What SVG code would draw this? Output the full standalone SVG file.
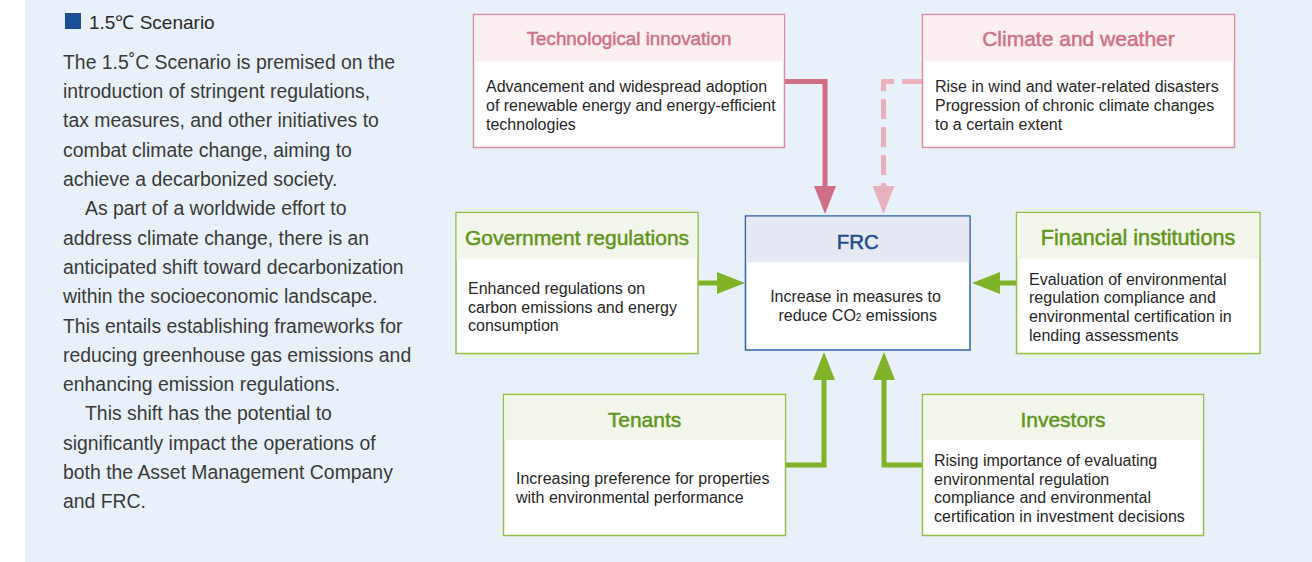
<svg xmlns="http://www.w3.org/2000/svg" width="1312" height="562" viewBox="0 0 1312 562">
  <style>
    .lead { font-family: "Liberation Sans", Arial, sans-serif; font-size: 19.4px; fill: #3a3a3a; }
    .title { font-family: "Liberation Sans", Arial, sans-serif; font-size: 21px; text-anchor: middle; stroke-width: 0.5; }
    .t-pink { fill: #d06f88; stroke: #d06f88; }
    .t-green { fill: #5f9620; stroke: #5f9620; }
    .t-blue { fill: #1d4f8f; stroke: #1d4f8f; }
    .body { font-family: "Liberation Sans", Arial, sans-serif; font-size: 16px; fill: #262626; }
    .box { fill: #ffffff; stroke-width: 1.5; }
    .b-pink { stroke: #de8aa0; }
    .b-green { stroke: #92c044; }
    .b-blue { stroke: #2e62a3; }
    .h-pink { fill: #fbeff2; }
    .h-green { fill: #f3f7eb; }
    .h-blue { fill: #e6e8f4; }
    .conn { fill: none; stroke-width: 5; }
  </style>
  <defs>
    <marker id="ah-pink" markerUnits="userSpaceOnUse" markerWidth="28" markerHeight="22" refX="0" refY="11" orient="auto">
      <path d="M0,0 L28,11 L0,22 Z" fill="#cf6f87"/>
    </marker>
    <marker id="ah-lightpink" markerUnits="userSpaceOnUse" markerWidth="28" markerHeight="22" refX="0" refY="11" orient="auto">
      <path d="M0,0 L28,11 L0,22 Z" fill="#e9b1be"/>
    </marker>
    <marker id="ah-green" markerUnits="userSpaceOnUse" markerWidth="28" markerHeight="22" refX="0" refY="11" orient="auto">
      <path d="M0,0 L28,11 L0,22 Z" fill="#80b327"/>
    </marker>
  </defs>

  <!-- panel background -->
  <rect x="25" y="0" width="1287" height="562" fill="#e8f1f9"/>

  <!-- scenario description -->
  <g id="scenario-text">
    <rect x="65" y="13" width="16" height="16" fill="#1b4f95"/>
    <text x="89" y="29" class="lead" style="font-size:19px;fill:#2a2a2a">1.5℃ Scenario</text>
    <text class="lead">
      <tspan x="63" y="69">The 1.5˚C Scenario is premised on the</tspan>
      <tspan x="63" y="98">introduction of stringent regulations,</tspan>
      <tspan x="63" y="127">tax measures, and other initiatives to</tspan>
      <tspan x="63" y="157">combat climate change, aiming to</tspan>
      <tspan x="63" y="186">achieve a decarbonized society.</tspan>
      <tspan x="85" y="215">As part of a worldwide effort to</tspan>
      <tspan x="63" y="245">address climate change, there is an</tspan>
      <tspan x="63" y="274">anticipated shift toward decarbonization</tspan>
      <tspan x="63" y="303">within the socioeconomic landscape.</tspan>
      <tspan x="63" y="333">This entails establishing frameworks for</tspan>
      <tspan x="63" y="362">reducing greenhouse gas emissions and</tspan>
      <tspan x="63" y="391">enhancing emission regulations.</tspan>
      <tspan x="85" y="420">This shift has the potential to</tspan>
      <tspan x="63" y="450">significantly impact the operations of</tspan>
      <tspan x="63" y="479">both the Asset Management Company</tspan>
      <tspan x="63" y="508">and FRC.</tspan>
    </text>
  </g>

  <!-- connectors -->
  <g id="connectors">
    <path class="conn" d="M785,81.5 H825 V186" stroke="#cf6f87" marker-end="url(#ah-pink)"/>
    <path class="conn" d="M922,81.5 H883.5 V186" stroke="#e9b1be" stroke-dasharray="20 8" marker-end="url(#ah-lightpink)"/>
    <path class="conn" d="M698,283 H717" stroke="#80b327" marker-end="url(#ah-green)"/>
    <path class="conn" d="M1016,283 H1000" stroke="#80b327" marker-end="url(#ah-green)"/>
    <path class="conn" d="M785,465 H824 V380" stroke="#80b327" marker-end="url(#ah-green)"/>
    <path class="conn" d="M922,465 H884 V380" stroke="#80b327" marker-end="url(#ah-green)"/>
  </g>

  <!-- Technological innovation -->
  <g id="node-tech">
    <rect class="box b-pink" x="473.5" y="14.5" width="311" height="133"/>
    <rect class="h-pink" x="474.25" y="15.25" width="309.5" height="46"/>
    <text class="title t-pink" x="629" y="45" style="font-size:18.8px">Technological innovation</text>
    <text class="body">
      <tspan x="486" y="92">Advancement and widespread adoption</tspan>
      <tspan x="486" y="111">of renewable energy and energy-efficient</tspan>
      <tspan x="486" y="130">technologies</tspan>
    </text>
  </g>

  <!-- Climate and weather -->
  <g id="node-climate">
    <rect class="box b-pink" x="922.5" y="14.5" width="312" height="133"/>
    <rect class="h-pink" x="923.25" y="15.25" width="310.5" height="46"/>
    <text class="title t-pink" x="1078.5" y="46">Climate and weather</text>
    <text class="body">
      <tspan x="935" y="92">Rise in wind and water-related disasters</tspan>
      <tspan x="935" y="111">Progression of chronic climate changes</tspan>
      <tspan x="935" y="130">to a certain extent</tspan>
    </text>
  </g>

  <!-- Government regulations -->
  <g id="node-government">
    <rect class="box b-green" x="456" y="212.5" width="242" height="141"/>
    <rect class="h-green" x="456.75" y="213.25" width="240.5" height="45"/>
    <text class="title t-green" x="577" y="244.5">Government regulations</text>
    <text class="body">
      <tspan x="468" y="294">Enhanced regulations on</tspan>
      <tspan x="468" y="313">carbon emissions and energy</tspan>
      <tspan x="468" y="331">consumption</tspan>
    </text>
  </g>

  <!-- FRC -->
  <g id="node-frc">
    <rect class="box b-blue" x="745.5" y="216" width="224.5" height="134"/>
    <rect class="h-blue" x="746.25" y="216.75" width="223" height="45.5"/>
    <text class="title t-blue" x="857.75" y="248.5" style="font-size:20.5px">FRC</text>
    <text class="body" text-anchor="middle">
      <tspan x="857.75" y="302">Increase in measures to</tspan>
      <tspan x="857.75" y="321">reduce CO<tspan style="font-size:10px">2</tspan> emissions</tspan>
    </text>
  </g>

  <!-- Financial institutions -->
  <g id="node-financial">
    <rect class="box b-green" x="1016.5" y="212.5" width="243.5" height="141"/>
    <rect class="h-green" x="1017.25" y="213.25" width="242" height="45"/>
    <text class="title t-green" x="1138" y="244.5" style="font-size:21.6px">Financial institutions</text>
    <text class="body">
      <tspan x="1029" y="285">Evaluation of environmental</tspan>
      <tspan x="1029" y="303">regulation compliance and</tspan>
      <tspan x="1029" y="322">environmental certification in</tspan>
      <tspan x="1029" y="341">lending assessments</tspan>
    </text>
  </g>

  <!-- Tenants -->
  <g id="node-tenants">
    <rect class="box b-green" x="503.5" y="394.5" width="282" height="141"/>
    <rect class="h-green" x="504.25" y="395.25" width="280.5" height="45"/>
    <text class="title t-green" x="644.5" y="426.5">Tenants</text>
    <text class="body">
      <tspan x="516" y="484">Increasing preference for properties</tspan>
      <tspan x="516" y="503">with environmental performance</tspan>
    </text>
  </g>

  <!-- Investors -->
  <g id="node-investors">
    <rect class="box b-green" x="922.5" y="394.5" width="281" height="141"/>
    <rect class="h-green" x="923.25" y="395.25" width="279.5" height="45"/>
    <text class="title t-green" x="1063" y="426.5">Investors</text>
    <text class="body">
      <tspan x="934" y="466">Rising importance of evaluating</tspan>
      <tspan x="934" y="485">environmental regulation</tspan>
      <tspan x="934" y="503">compliance and environmental</tspan>
      <tspan x="934" y="522">certification in investment decisions</tspan>
    </text>
  </g>
</svg>
